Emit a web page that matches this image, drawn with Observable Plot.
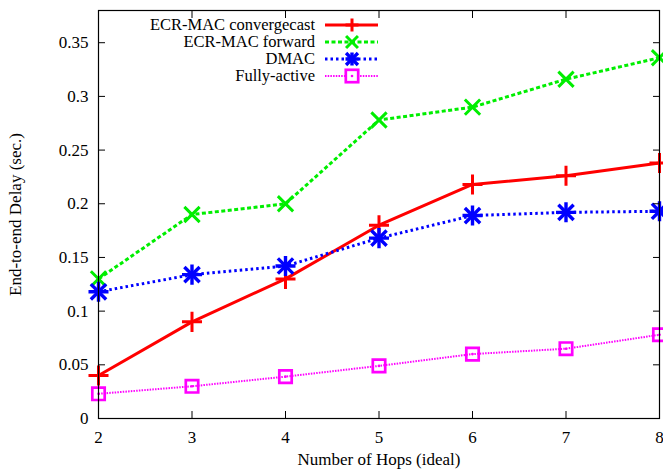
<!DOCTYPE html>
<html><head><meta charset="utf-8">
<script src="https://cdn.jsdelivr.net/npm/d3@7"></script>
<script src="https://cdn.jsdelivr.net/npm/@observablehq/plot@0.6"></script>
<style>
body{margin:0;background:#fff}
#wrap{position:relative;width:663px;height:475px}
#wrap svg{font-family:"Liberation Serif","Times New Roman",serif}
#legend{position:absolute;left:0;top:0;pointer-events:none}
</style>
</head><body><div id="wrap"></div>
<script>
const hops = [2, 3, 4, 5, 6, 7, 8];
const seriesNames = ["ECR-MAC convergecast", "ECR-MAC forward", "DMAC", "Fully-active"];
const convergecast = [0.040, 0.090, 0.130, 0.180, 0.218, 0.226, 0.238];
const forward = [0.130, 0.190, 0.200, 0.278, 0.290, 0.316, 0.336];
const dmac = [0.118, 0.134, 0.142, 0.168, 0.189, 0.192, 0.193];
const fullyActive = [0.023, 0.030, 0.039, 0.049, 0.060, 0.065, 0.078];
const yTicks = [0, 0.05, 0.1, 0.15, 0.2, 0.25, 0.3, 0.35];
const yTickLabels = ["0", "0.05", "0.1", "0.15", "0.2", "0.25", "0.3", "0.35"];
const xTickLabels = ["2", "3", "4", "5", "6", "7", "8"];

const FONT = "'Liberation Serif', 'Times New Roman', serif";
const styles = [
  {color: "#ff0000", dash: null, width: 3, symbols: ["plus"]},
  {color: "#00ee00", dash: "4,2.5", width: 3, symbols: ["times"]},
  {color: "#0000ff", dash: "2.5,3", width: 3, symbols: ["plus", "times"]},
  {color: "#ff00ff", dash: "1.5,1.2", width: 2, symbols: ["square"]}
];
const values = [convergecast, forward, dmac, fullyActive];
const data = [];
values.forEach((arr, s) => arr.forEach((v, i) => data.push({series: seriesNames[s], hops: hops[i], delay: v})));

const symR = {plus: 6.5, times: 7};
const marks = [];
seriesNames.forEach((name, s) => {
  const st = styles[s];
  const d = data.filter(r => r.series === name);
  marks.push(Plot.line(d, {x: "hops", y: "delay", stroke: st.color, strokeWidth: st.width, strokeDasharray: st.dash, strokeLinecap: "butt", strokeLinejoin: "miter"}));
});
seriesNames.forEach((name, s) => {
  const st = styles[s];
  const d = data.filter(r => r.series === name);
  st.symbols.forEach(sym => {
    if (sym === "square") {
      marks.push(Plot.dot(d, {x: "hops", y: "delay", symbol: "square", r: 7, stroke: st.color, strokeWidth: 2.7, fill: "none"}));
      marks.push(Plot.dot(d, {x: "hops", y: "delay", r: 1.3, fill: st.color}));
    } else {
      marks.push(Plot.dot(d, {x: "hops", y: "delay", symbol: sym, r: symR[sym], stroke: st.color, strokeWidth: s === 2 ? 3.4 : 3}));
    }
  });
});

const chart = Plot.plot({
  width: 663, height: 475,
  marginLeft: 98, marginRight: 4, marginTop: 10, marginBottom: 57,
  style: {fontFamily: FONT, fontSize: "17px", color: "#000", background: "#fff"},
  x: {domain: [2, 8]},
  y: {domain: [0, 0.38]},
  marks: [
    ...marks,
    Plot.frame({stroke: "#000", strokeWidth: 1.2}),
    Plot.axisX(hops, {anchor: "bottom", tickSize: -7, tickPadding: 19, tickFormat: d => xTickLabels[hops.indexOf(d)], label: "Number of Hops (ideal)", labelAnchor: "center", labelOffset: 46, labelArrow: "none", fontSize: 17, fontFamily: FONT}),
    Plot.axisX(hops, {anchor: "top", tickSize: -7, tickFormat: () => "", label: null}),
    Plot.axisY(yTicks, {anchor: "left", tickSize: -7, tickPadding: 17, tickFormat: d => yTickLabels[yTicks.indexOf(d)], label: "End-to-end Delay (sec.)", labelAnchor: "center", labelOffset: 90, labelArrow: "none", fontSize: 17, fontFamily: FONT}),
    Plot.axisY(yTicks, {anchor: "right", tickSize: -7, tickFormat: () => "", label: null})
  ]
});
const wrap = document.getElementById("wrap");
wrap.appendChild(chart);

// legend overlay
const svg = d3.select(wrap).append("svg").attr("id", "legend").attr("width", 663).attr("height", 475);
const symPath = (sym, r) => {
  if (sym === "plus") return `M${-r},0H${r}M0,${-r}V${r}`;
  if (sym === "times") { const a = r * 0.85; return `M${-a},${-a}L${a},${a}M${-a},${a}L${a},${-a}`; }
  return "";
};
seriesNames.forEach((name, s) => {
  const st = styles[s];
  const y = 25 + s * 17;
  svg.append("text").attr("x", 315).attr("y", y).attr("dy", "0.33em").attr("text-anchor", "end")
    .style("font-family", FONT).style("font-size", "16.5px").text(name);
  svg.append("line").attr("x1", 325).attr("x2", 378).attr("y1", y).attr("y2", y)
    .attr("stroke", st.color).attr("stroke-width", st.width).attr("stroke-dasharray", st.dash);
  const g = svg.append("g").attr("transform", `translate(352,${y})`);
  st.symbols.forEach(sym => {
    if (sym === "square") {
      g.append("rect").attr("x", -6.2).attr("y", -6.2).attr("width", 12.4).attr("height", 12.4).attr("fill", "#fff").attr("stroke", st.color).attr("stroke-width", 2.7);
      g.append("circle").attr("r", 1.3).attr("fill", st.color);
    } else {
      g.append("path").attr("d", symPath(sym, sym === "times" ? 7 : 6.5)).attr("stroke", st.color).attr("stroke-width", s === 2 ? 3.4 : 3).attr("fill", "none");
    }
  });
});
</script>
</body></html>
